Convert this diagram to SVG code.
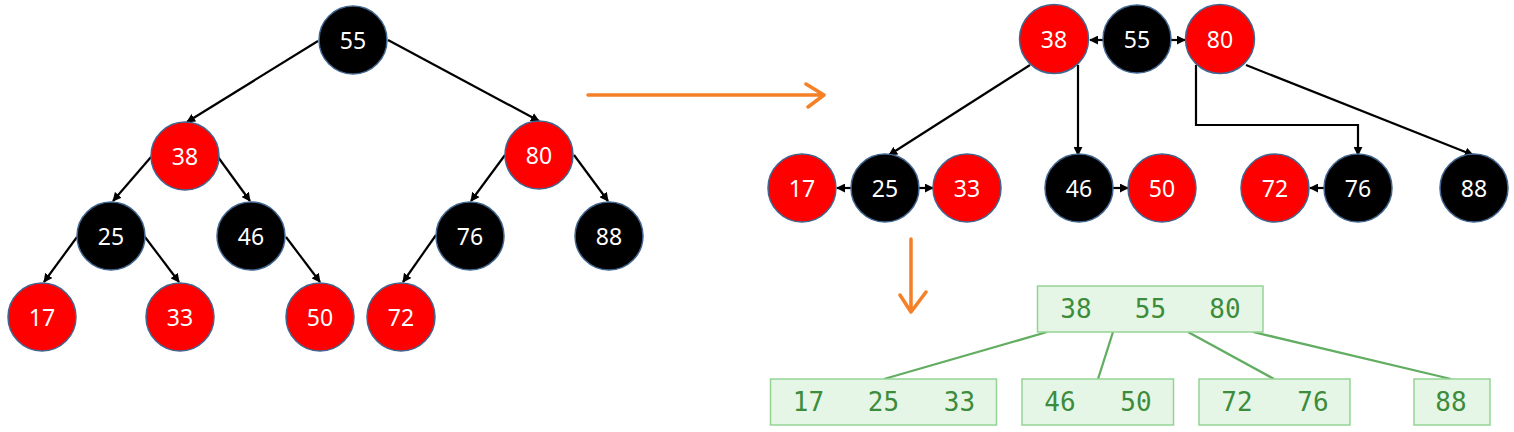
<svg xmlns="http://www.w3.org/2000/svg" width="1514" height="432" viewBox="0 0 1514 432">
<style>
.r{fill:#ff0000;stroke:#41668f;stroke-width:1.5}
.b{fill:#000000;stroke:#41668f;stroke-width:1.5}
.t{fill:#ffffff;font-family:"Noto Sans","Liberation Sans",sans-serif;font-size:23px;text-anchor:middle;dominant-baseline:central}
.e{stroke:#000;stroke-width:2.2;fill:none;marker-end:url(#ah)}
.bx{fill:#e6f6e6;stroke:#95d395;stroke-width:1.5}
.bt{fill:#3c8c3c;font-family:"DejaVu Sans Mono","Liberation Mono",monospace;font-size:26px;text-anchor:middle;dominant-baseline:central}
.gl{stroke:#62ad62;stroke-width:2.3;fill:none}
.or{stroke:#f58025;stroke-width:3.5;fill:none;stroke-linecap:round;stroke-linejoin:round}
</style>
<defs>
<marker id="ah" viewBox="0 0 10 10" refX="9" refY="5" markerWidth="9" markerHeight="9" markerUnits="userSpaceOnUse" orient="auto">
<path d="M0,0 L10,5 L0,10 Z" fill="#000"/>
</marker>
</defs>
<rect width="1514" height="432" fill="#ffffff"/>
<g id="connectors">
<line class="e" x1="318" y1="41" x2="187" y2="122"/>
<line class="e" x1="388" y1="40" x2="539" y2="121"/>
<line class="e" x1="151" y1="157" x2="113" y2="201"/>
<line class="e" x1="218" y1="157" x2="250" y2="201"/>
<line class="e" x1="505" y1="155" x2="471" y2="201"/>
<line class="e" x1="574" y1="155" x2="608" y2="201"/>
<line class="e" x1="77" y1="237" x2="44" y2="282"/>
<line class="e" x1="145" y1="237" x2="179" y2="282"/>
<line class="e" x1="286" y1="237" x2="320" y2="282"/>
<line class="e" x1="436" y1="235" x2="403" y2="282"/>
<line class="e" x1="1103" y1="40" x2="1090" y2="40"/>
<line class="e" x1="1171" y1="40" x2="1185" y2="40"/>
<line class="e" x1="1030" y1="65" x2="889" y2="155"/>
<line class="e" x1="1078" y1="65" x2="1078" y2="155"/>
<polyline class="e" points="1196,65 1196,125 1358,125 1358,155"/>
<line class="e" x1="1246" y1="65" x2="1473" y2="155"/>
<line class="e" x1="851" y1="188" x2="837" y2="188"/>
<line class="e" x1="919" y1="188" x2="933" y2="188"/>
<line class="e" x1="1113" y1="188" x2="1128" y2="188"/>
<line class="e" x1="1324" y1="188" x2="1310" y2="188"/>
<line class="gl" x1="1047" y1="332" x2="884" y2="379"/>
<line class="gl" x1="1113" y1="332" x2="1098" y2="379"/>
<line class="gl" x1="1188" y1="332" x2="1274" y2="379"/>
<line class="gl" x1="1253" y1="332" x2="1451" y2="379"/>
<path class="or" d="M588,95 L824,95 M806,84 L824,95 L808,107"/>
<path class="or" d="M911,239 L911,311 M900,295 L911,312 M926,292 L911,312"/>
</g>
<g id="n55"><circle class="b" cx="353" cy="40" r="34"/><text class="t" x="353" y="40">55</text></g>
<g id="n38"><circle class="r" cx="185" cy="156" r="34"/><text class="t" x="185" y="156">38</text></g>
<g id="n80"><circle class="r" cx="539" cy="155" r="34"/><text class="t" x="539" y="155">80</text></g>
<g id="n25"><circle class="b" cx="111" cy="236" r="34"/><text class="t" x="111" y="236">25</text></g>
<g id="n46"><circle class="b" cx="251" cy="236" r="34"/><text class="t" x="251" y="236">46</text></g>
<g id="n76"><circle class="b" cx="470" cy="236" r="34"/><text class="t" x="470" y="236">76</text></g>
<g id="n88"><circle class="b" cx="609" cy="236" r="34"/><text class="t" x="609" y="236">88</text></g>
<g id="n17"><circle class="r" cx="42" cy="317" r="34"/><text class="t" x="42" y="317">17</text></g>
<g id="n33"><circle class="r" cx="180" cy="317" r="34"/><text class="t" x="180" y="317">33</text></g>
<g id="n50"><circle class="r" cx="320" cy="317" r="34"/><text class="t" x="320" y="317">50</text></g>
<g id="n72"><circle class="r" cx="401" cy="317" r="34"/><text class="t" x="401" y="317">72</text></g>
<g id="m38"><circle class="r" cx="1054" cy="39" r="34.5"/><text class="t" x="1054" y="39">38</text></g>
<g id="m55"><circle class="b" cx="1137" cy="39" r="34"/><text class="t" x="1137" y="39">55</text></g>
<g id="m80"><circle class="r" cx="1220" cy="39" r="34.5"/><text class="t" x="1220" y="39">80</text></g>
<g id="m17"><circle class="r" cx="802" cy="188" r="34"/><text class="t" x="802" y="188">17</text></g>
<g id="m25"><circle class="b" cx="885" cy="188" r="34"/><text class="t" x="885" y="188">25</text></g>
<g id="m33"><circle class="r" cx="967" cy="188" r="34"/><text class="t" x="967" y="188">33</text></g>
<g id="m46"><circle class="b" cx="1079" cy="188" r="34"/><text class="t" x="1079" y="188">46</text></g>
<g id="m50"><circle class="r" cx="1162" cy="188" r="34"/><text class="t" x="1162" y="188">50</text></g>
<g id="m72"><circle class="r" cx="1275" cy="188" r="34"/><text class="t" x="1275" y="188">72</text></g>
<g id="m76"><circle class="b" cx="1358" cy="188" r="34"/><text class="t" x="1358" y="188">76</text></g>
<g id="m88"><circle class="b" cx="1474" cy="188" r="34"/><text class="t" x="1474" y="188">88</text></g>
<g id="broot"><rect class="bx" x="1037.5" y="286" width="225.5" height="46"/>
<text class="bt" x="1076" y="309">38</text><text class="bt" x="1150.5" y="309">55</text><text class="bt" x="1225" y="309">80</text></g>
<g id="bleaf1"><rect class="bx" x="770.5" y="379" width="226" height="46"/>
<text class="bt" x="808.5" y="402">17</text><text class="bt" x="883.5" y="402">25</text><text class="bt" x="959.5" y="402">33</text></g>
<g id="bleaf2"><rect class="bx" x="1022" y="379" width="151.5" height="46"/>
<text class="bt" x="1060" y="402">46</text><text class="bt" x="1136" y="402">50</text></g>
<g id="bleaf3"><rect class="bx" x="1199" y="379" width="151" height="46"/>
<text class="bt" x="1237" y="402">72</text><text class="bt" x="1313" y="402">76</text></g>
<g id="bleaf4"><rect class="bx" x="1414" y="379" width="76" height="46"/>
<text class="bt" x="1451" y="402">88</text></g>
</svg>
